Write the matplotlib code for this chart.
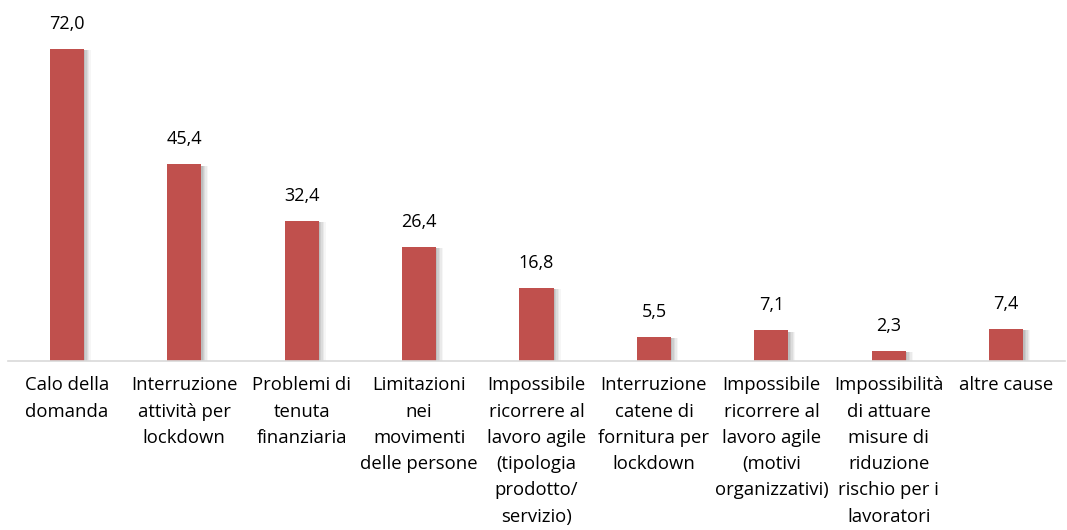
import numpy as np
import matplotlib.pyplot as plt
from matplotlib.patches import Rectangle

plt.rcParams['font.family'] = ['Open Sans', 'DejaVu Sans']

categories = ["Calo della\ndomanda",
              "Interruzione\nattività per\nlockdown",
              "Problemi di\ntenuta\nfinanziaria",
              "Limitazioni\nnei\nmovimenti\ndelle persone",
              "Impossibile\nricorrere al\nlavoro agile\n(tipologia\nprodotto/\nservizio)",
              "Interruzione\ncatene di\nfornitura per\nlockdown",
              "Impossibile\nricorrere al\nlavoro agile\n(motivi\norganizzativi)",
              "Impossibilità\ndi attuare\nmisure di\nriduzione\nrischio per i\nlavoratori",
              "altre cause"]
values = [72.0, 45.4, 32.4, 26.4, 16.8, 5.5, 7.1, 2.3, 7.4]

bar_color = '#c0504d'
width = 0.29

fig = plt.figure(figsize=(10.67, 5.30), dpi=100)
ax = fig.add_axes([8 / 1067, 169 / 530, 1057 / 1067, 361 / 530])
x = np.arange(len(values))

# soft shadow to the right of each bar
for i, v in enumerate(values):
    for k, a in zip([0.06, 0.048, 0.036, 0.024, 0.012], [0.05, 0.07, 0.09, 0.11, 0.13]):
        ax.add_patch(Rectangle((i - width / 2 + k, 0), width, v - 0.3, color='#555555',
                               alpha=a, lw=0, zorder=1))
ax.bar(x, values, width=width, color=bar_color, zorder=2)

for i, v in enumerate(values):
    ax.text(i, v + 3.7, f"{v:.1f}".replace('.', ','), ha='center', va='bottom',
            fontsize=13, color='#000000')

ax.set_xlim(-0.5, len(values) - 0.5)
ax.set_ylim(0, 83.3)
ax.set_yticks([])
ax.set_xticks(x)
ax.set_xticklabels(categories, fontsize=13.3, linespacing=1.59, va='top')
ax.tick_params(axis='x', length=0, pad=11)
for s in ['top', 'left', 'right']:
    ax.spines[s].set_visible(False)
ax.spines['bottom'].set_color('#d9d9d9')
ax.spines['bottom'].set_linewidth(1.2)

plt.savefig('out.png', dpi=100)
